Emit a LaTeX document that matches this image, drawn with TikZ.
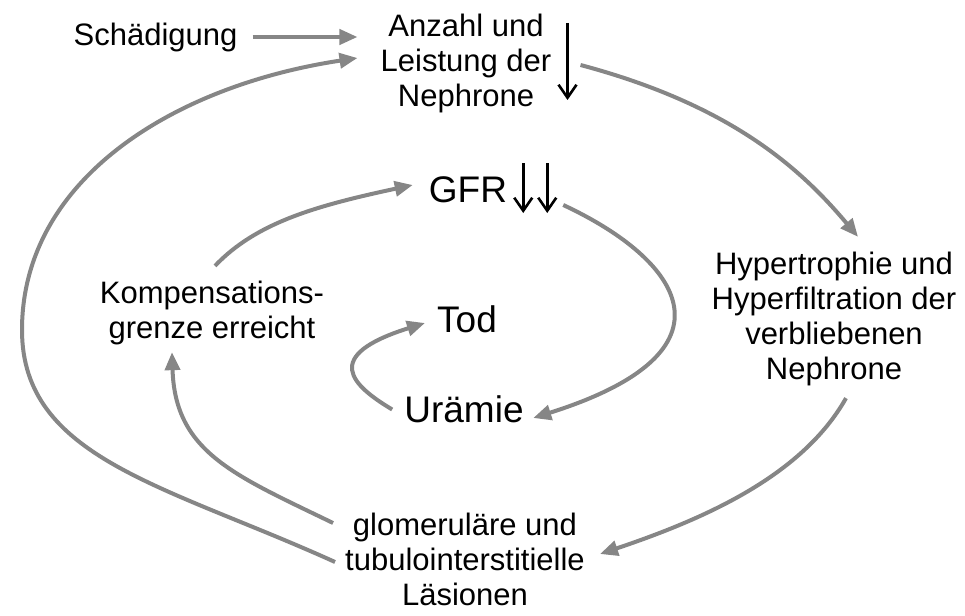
\documentclass[tikz,border=0pt]{standalone}
\usepackage{fontspec}
\setmainfont{Liberation Sans}
\usetikzlibrary{arrows.meta, calc}
\definecolor{arrowgray}{RGB}{134,134,134}
\tikzstyle{stage} = [inner sep=0pt, align=center, font=\fontsize{31}{35}\selectfont]
\tikzstyle{bigstage} = [inner sep=0pt, font=\fontsize{37}{42}\selectfont]
\tikzstyle{arrow} = [draw=arrowgray, line width=4pt, -{Triangle[length=18pt,width=15pt]}]
\tikzstyle{drop} = [draw=black, line width=2.6pt, -{Straight Barb[length=13pt,width=18pt]}]

\begin{document}
\begin{tikzpicture}[x=1pt, y=-1pt]
\useasboundingbox (0,0) rectangle (965,615);

% Stages of the cycle
\node[stage] (schaed) at (155.5,37) {Schädigung};
\node[stage] (anzahl) at (466,63) {Anzahl und\\Leistung der\\Nephrone};
\node[stage] (hyper) at (834,319) {Hypertrophie und\\Hyperfiltration der\\verbliebenen\\Nephrone};
\node[stage] (glom) at (465,559) {glomeruläre und\\tubulointerstitielle\\Läsionen};
\node[stage] (komp) at (212,313) {Kompensations-\\grenze erreicht};

% Inner spiral
\node[bigstage] (gfr) at (468,189.5) {GFR};
\node[bigstage] (tod) at (467,319.5) {Tod};
\node[bigstage] (uraemie) at (464,409.5) {Urämie};

% Decrease marks
\draw[drop] ($(anzahl.east)+(16,-40)$) -- ($(anzahl.east)+(16,37)$);
\draw[drop] ($(gfr.east)+(16,-26.5)$) -- ($(gfr.east)+(16,23.5)$);
\draw[drop] ($(gfr.east)+(40,-26.5)$) -- ($(gfr.east)+(40,23.5)$);

% Connections
\coordinate (outerleft) at (22,330);
\draw[arrow] ($(schaed.east)+(15,0)$) -- ($(schaed.east -| anzahl.west)+(-23,0)$);
\draw[arrow] ($(glom.west)+(-10,3)$) .. controls +(-170,-77) and +(0,128) .. (outerleft)
  .. controls +(0,-150) and +(-185,28) .. ($(anzahl.west)+(-23,-5)$);
\draw[arrow] ($(anzahl.east)+(29,2)$) .. controls +(150,40) and +(-58,-69) .. ($(hyper.north)+(24,-15)$);
\draw[arrow] ($(hyper.south)+(12,12)$) .. controls +(-44,78) and +(104,-35) .. ($(glom.east)+(15,-5)$);
\draw[arrow] ($(glom.west)+(-12,-36)$) .. controls +(-99,-48) and +(3,100) .. ($(komp.south)+(-40,7)$);
\draw[arrow] ($(komp.north)+(3,-15)$) .. controls +(41,-43) and +(-98,21) .. ($(gfr.west)+(-16,-4.5)$);
\draw[arrow] ($(gfr.east)+(56,15.5)$) .. controls +(118,55) and +(212,-67) .. ($(uraemie.east)+(9.4,8.5)$);
\draw[arrow] ($(uraemie.west)+(-12,0)$) .. controls +(-40,-24) and +(-105,33) .. ($(tod.west)+(-12,3.5)$);

\end{tikzpicture}
\end{document}
